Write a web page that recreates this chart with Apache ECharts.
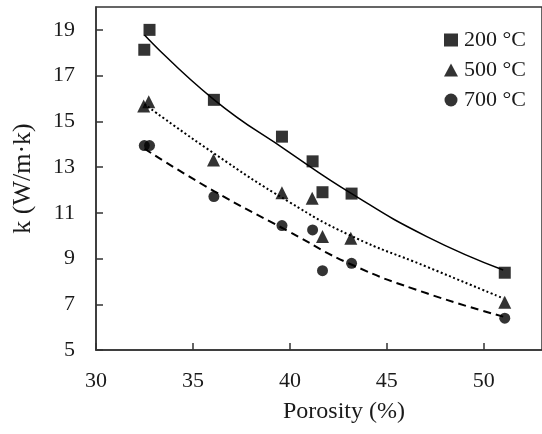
<!DOCTYPE html>
<html>
<head>
<meta charset="utf-8">
<script src="https://cdn.jsdelivr.net/npm/echarts@6/dist/echarts.min.js"></script>
<style>
  html, body { margin: 0; padding: 0; background: #fff; }
  #chart { width: 542px; height: 434px; }
</style>
</head>
<body>
<div id="chart"></div>
<script>
// Measured thermal conductivity vs. porosity at three heat-treatment temperatures
const porosity200 = [32.49, 32.76, 36.08, 39.59, 41.17, 41.68, 43.18, 51.08];
const k200        = [18.13, 19.00, 15.94, 14.33, 13.25, 11.90, 11.84, 8.38];

const porosity500 = [32.46, 32.72, 36.06, 39.59, 41.15, 41.68, 43.14, 51.08];
const k500        = [15.67, 15.86, 13.31, 11.88, 11.64, 9.96, 9.89, 7.09];

const porosity700 = [32.49, 32.76, 36.08, 39.59, 41.17, 41.68, 43.18, 51.08];
const k700        = [13.94, 13.94, 11.71, 10.44, 10.25, 8.47, 8.79, 6.39];

// Trend curves
const trendX     = [32.5, 36.08, 39.91, 43.14, 47.06, 51.0];
const trend200   = [18.78, 15.95, 13.68, 11.86, 9.96, 8.5];
const trend500   = [15.75, 13.6, 11.5, 10.0, 8.64, 7.26];
const trend700   = [13.8, 11.95, 10.2, 8.75, 7.48, 6.46];

const seriesNames = ['200 °C', '500 °C', '700 °C'];

const xTicks = { min: 30, max: 53, interval: 5 };
const yTicks = { min: 5, max: 20, interval: 2 };

const FONT = 'Liberation Serif';
const INK = '#1a1a1a';

function pairs(xs, ys) { return xs.map((x, i) => [x, ys[i]]); }

function scatter(name, symbol, size, xs, ys) {
  return {
    name: name,
    type: 'scatter',
    symbol: symbol,
    symbolSize: size,
    itemStyle: { color: '#000' },
    data: pairs(xs, ys),
    z: 3
  };
}

function trend(ys, type) {
  return {
    type: 'line',
    smooth: true,
    showSymbol: false,
    silent: true,
    lineStyle: { color: '#000', width: type === 'solid' ? 1.5 : 2, type: type },
    data: pairs(trendX, ys),
    z: 2
  };
}

const chart = echarts.init(document.getElementById('chart'), null, { renderer: 'canvas' });

chart.setOption({
  animation: false,
  backgroundColor: '#fff',
  textStyle: { fontFamily: FONT, color: INK },
  grid: {
    left: 96, top: 7, width: 449, height: 343,
    show: true, borderColor: '#333', borderWidth: 1.5, backgroundColor: 'transparent'
  },
  legend: {
    orient: 'vertical',
    left: 439, top: 24,
    itemWidth: 14, itemHeight: 13, itemGap: 8,
    textStyle: { fontFamily: FONT, fontSize: 22, color: INK, padding: [0, 0, 0, 1] },
    data: [
      { name: seriesNames[0], icon: 'rect' },
      { name: seriesNames[1], icon: 'triangle' },
      { name: seriesNames[2], icon: 'circle' }
    ]
  },
  xAxis: {
    type: 'value',
    min: xTicks.min, max: xTicks.max, interval: xTicks.interval,
    name: 'Porosity (%)',
    nameLocation: 'middle',
    nameGap: 50,
    nameTextStyle: { fontFamily: FONT, fontSize: 24, color: INK, padding: [0, 0, 0, 50] },
    axisLine: { lineStyle: { color: '#333', width: 1.5 } },
    axisTick: { inside: true, length: 7, lineStyle: { color: '#333', width: 1.5 } },
    axisLabel: { fontFamily: FONT, fontSize: 22, color: INK, margin: 20, showMaxLabel: false },
    splitLine: { show: false }
  },
  yAxis: {
    type: 'value',
    min: yTicks.min, max: yTicks.max, interval: yTicks.interval,
    name: 'k (W/m·k)',
    nameLocation: 'middle',
    nameGap: 60,
    nameRotate: 90,
    nameTextStyle: { fontFamily: FONT, fontSize: 26, color: INK },
    axisLine: { lineStyle: { color: '#333', width: 1.5 } },
    axisTick: { inside: true, length: 7, lineStyle: { color: '#333', width: 1.5 } },
    axisLabel: { fontFamily: FONT, fontSize: 22, color: INK, margin: 21, showMaxLabel: false },
    splitLine: { show: false }
  },
  series: [
    trend(trend200, 'solid'),
    trend(trend500, [2, 2.5]),
    trend(trend700, [8, 5]),
    scatter(seriesNames[0], 'rect', 12, porosity200, k200),
    scatter(seriesNames[1], 'triangle', 13, porosity500, k500),
    scatter(seriesNames[2], 'circle', 11, porosity700, k700)
  ]
});
</script>
</body>
</html>
